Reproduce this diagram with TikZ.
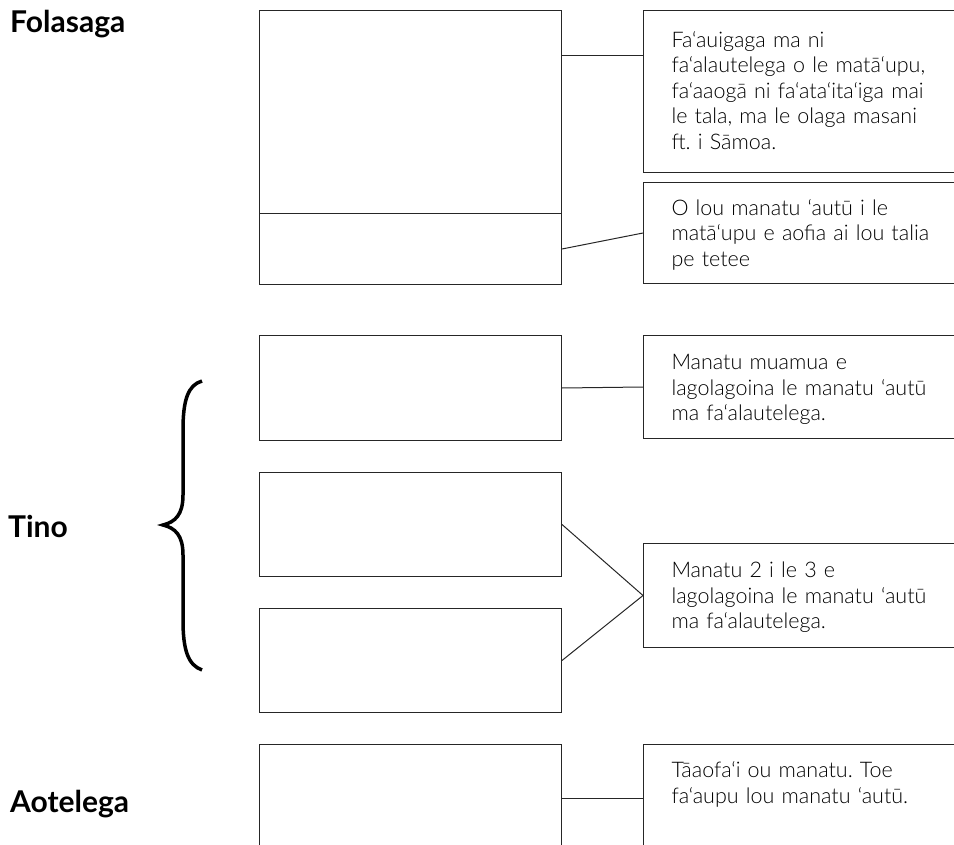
\documentclass[tikz,border=0pt]{standalone}
\usepackage{fontspec}
\setmainfont{Lato}
\newfontfamily\notefont{Lato Light}
\usepackage{tikz}
\frenchspacing

\begin{document}
\begin{tikzpicture}[x=1pt,y=-1pt,
  box/.style={draw=black!85, line width=1pt, minimum width=302pt, inner sep=0pt, anchor=north west},
  note/.style={draw=black!85, line width=1pt, anchor=north west, inner xsep=28pt, inner ysep=0pt,
    text width=300pt, align=left, font=\notefont\fontsize{21.5}{25.5}\selectfont},
  head/.style={anchor=base west, inner sep=0pt, font=\bfseries\fontsize{30}{34}\selectfont},
  link/.style={draw=black!85, line width=1pt}]
\useasboundingbox (0,0) rectangle (954,845);
\clip (0,0) rectangle (954,845);
% Folasaga
\node[head] (folasaga) at (10,33) {Folasaga};
\node[box, minimum height=203pt] (introtop) at (259,10) {};
\node[box, minimum height=71pt] (thesis) at (259,213) {};
\node[note, text height=37pt, text depth=125pt] (introtext) at (643,10) {Fa‘auigaga ma ni\\ fa‘alautelega o le matā‘upu,\\ fa‘aaogā ni fa‘ata‘ita‘iga mai\\ le tala, ma le olaga masani\\ ft. i Sāmoa.};
\node[note, text height=33pt, text depth=68pt] (thesistext) at (643,182) {O lou manatu ‘autū i le\\ matā‘upu e aofia ai lou talia\\ pe tetee};
\draw[link] ([yshift=-46pt]introtop.north east) -- ([yshift=-46pt]introtext.north west);
\draw[link] (thesis.east) -- (thesistext.west);
% Tino
\node[head] (tino) at (8,537) {Tino};
\draw[line width=3.5pt] (202,381) .. controls (188,385) and (183,400) .. (183,430) -- (183,495)
  .. controls (183,515) and (175,522) .. (163,525) .. controls (175,528) and (183,535) .. (183,555)
  -- (183,620) .. controls (183,650) and (188,665) .. (202,670);
\node[box, minimum height=105pt] (point1) at (259,335) {};
\node[box, minimum height=104pt] (point2) at (259,472) {};
\node[box, minimum height=104pt] (point3) at (259,608) {};
\node[note, text height=34pt, text depth=69pt] (point1text) at (643,335) {Manatu muamua e\\ lagolagoina le manatu ‘autū\\ ma fa‘alautelega.};
\node[note, text height=34pt, text depth=70pt] (point23text) at (643,543) {Manatu 2 i le 3 e\\ lagolagoina le manatu ‘autū\\ ma fa‘alautelega.};
\draw[link] (point1.east) -- (point1text.west);
\draw[link] (point2.east) -- (point23text.west);
\draw[link] (point3.east) -- (point23text.west);
% Aotelega
\node[head] (aotelega) at (10,812) {Aotelega};
\node[box, minimum height=108pt] (summary) at (259,744) {};
\node[note, text height=33pt, text depth=75pt] (summarytext) at (643,744) {Tāaofa‘i ou manatu. Toe\\ fa‘aupu lou manatu ‘autū.};
\draw[link] (summary.east) -- (summarytext.west);
\end{tikzpicture}
\end{document}
